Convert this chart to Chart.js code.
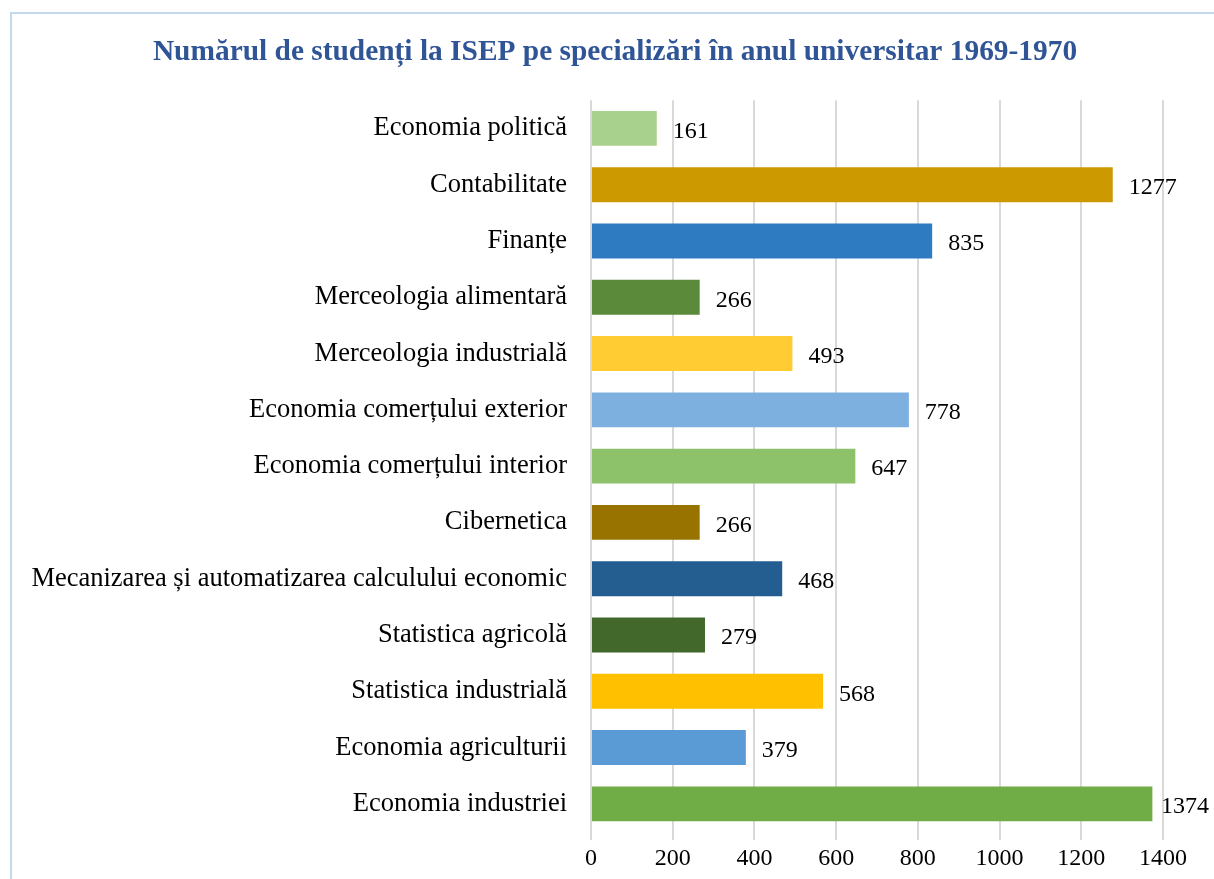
<!DOCTYPE html>
<html>
<head>
<meta charset="utf-8">
<script src="https://cdn.jsdelivr.net/npm/chart.js@4.4.1/dist/chart.umd.min.js"></script>
<style>
  html, body { margin: 0; padding: 0; background: #fff; overflow: hidden; }
  #frame { position: absolute; left: 10px; top: 12px; width: 1400px; height: 1000px;
           border-left: 2px solid #C3D9EE; border-top: 2px solid #C3D9EE; }
  #wrap { position: absolute; left: 0; top: 0; width: 1214px; height: 879px; }
</style>
</head>
<body>
<div id="frame"></div>
<div id="wrap"><canvas id="diagram" width="1214" height="879"></canvas></div>
<script>
var categories = [
  "Economia politică",
  "Contabilitate",
  "Finanțe",
  "Merceologia alimentară",
  "Merceologia industrială",
  "Economia comerțului exterior",
  "Economia comerțului interior",
  "Cibernetica",
  "Mecanizarea și automatizarea calculului economic",
  "Statistica agricolă",
  "Statistica industrială",
  "Economia agriculturii",
  "Economia industriei"
];
var students = [161, 1277, 835, 266, 493, 778, 647, 266, 468, 279, 568, 379, 1374];
var barColors = [
  "#A9D18E", "#CC9900", "#2E7BC2", "#5B8A3A", "#FFCC33", "#7DAFDF", "#8DC16A",
  "#997300", "#245E90", "#43682B", "#FFC000", "#5B9BD5", "#70AD47"
];
var xTicks = [0, 200, 400, 600, 800, 1000, 1200, 1400];

var serif = "'Liberation Serif', 'Times New Roman', serif";

// valorile de la capatul barelor
var valueLabels = {
  id: 'valueLabels',
  afterDatasetsDraw: function(chart) {
    var ctx = chart.ctx;
    var meta = chart.getDatasetMeta(0);
    ctx.save();
    ctx.font = "24px " + serif;
    ctx.fillStyle = "#000";
    ctx.textAlign = "left";
    ctx.textBaseline = "middle";
    meta.data.forEach(function(bar, i) {
      var txt = String(students[i]);
      var x = Math.min(bar.x + 16, chart.width - 5 - ctx.measureText(txt).width);
      ctx.fillText(txt, x, bar.y + 3);
    });
    ctx.restore();
  }
};

// eticheta lunga nu trebuie taiata la stanga
var unclipLabels = {
  id: 'unclipLabels',
  afterLayout: function(chart) { chart.scales.y.left = 0; }
};

var diagram = document.getElementById("diagram").getContext("2d");
var chart = new Chart(diagram, {
  type: 'bar',
  data: {
    labels: categories,
    datasets: [{
      data: students,
      backgroundColor: barColors,
      borderWidth: 0,
      barPercentage: 0.62,
      categoryPercentage: 1
    }]
  },
  options: {
    indexAxis: 'y',
    responsive: false,
    animation: false,
    layout: { padding: { left: 67, right: 51, top: 0, bottom: 0 } },
    plugins: {
      legend: { display: false },
      tooltip: { enabled: false },
      title: {
        display: true,
        text: "Numărul de studenți la ISEP pe specializări în anul universitar 1969-1970",
        color: "#2F5597",
        font: { family: serif, size: 29.4, weight: 'bold' },
        padding: { top: 35, bottom: 30 }
      }
    },
    scales: {
      x: {
        min: 0,
        max: 1400,
        afterBuildTicks: function(scale) {
          scale.ticks = xTicks.map(function(v) { return { value: v }; });
        },
        afterFit: function(scale) { scale.height = 47; },
        grid: { color: "#D9D9D9", lineWidth: 2, tickLength: 8 },
        border: { display: false },
        ticks: {
          color: "#000", font: { family: serif, size: 24 }, padding: 4, maxRotation: 0,
          callback: function(v) { return String(v); }
        }
      },
      y: {
        afterFit: function(scale) { scale.width = 524; },
        grid: { display: false, drawTicks: false },
        border: { display: false },
        ticks: { color: "#000", font: { family: serif, size: 26.5 }, padding: 24, autoSkip: false }
      }
    }
  },
  plugins: [valueLabels, unclipLabels]
});
</script>
</body>
</html>
